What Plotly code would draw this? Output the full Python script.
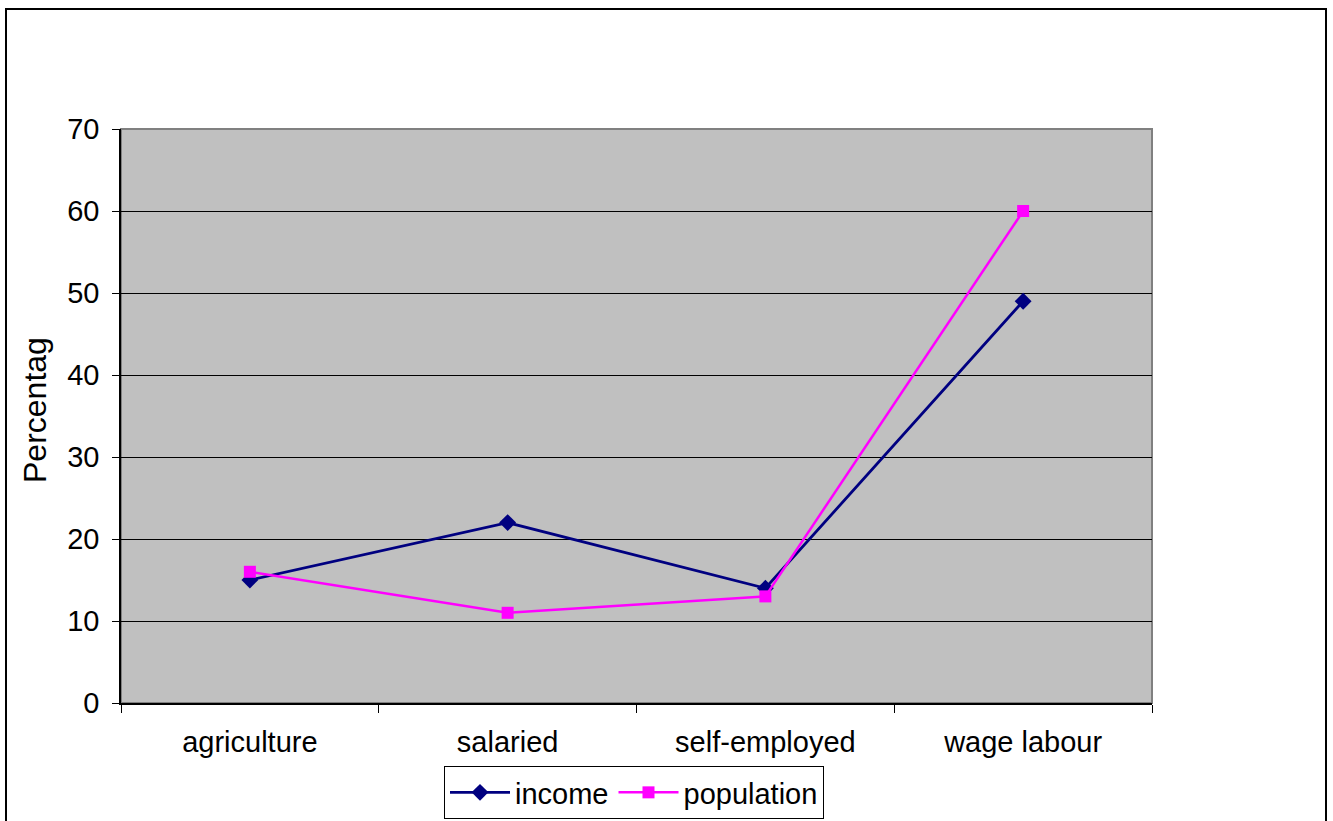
import plotly.graph_objects as go

# Share of income and population by livelihood category (%)
categories = ["agriculture", "salaried", "self-employed", "wage labour"]
income = [15, 22, 14, 49]
population = [16, 11, 13, 60]
y_ticks = [0, 10, 20, 30, 40, 50, 60, 70]

W, H = 1333, 821
L, R, T, B = 121, 1152, 129, 703  # plot area in pixels
pw, ph = R - L, B - T


def px_x(x):
    return (x - L) / pw


def px_y(y):
    return (B - y) / ph


FONT = "Liberation Sans, Arial, sans-serif"

fig = go.Figure()
fig.add_trace(go.Scatter(
    x=categories, y=income, name="income", mode="lines+markers",
    line=dict(color="#000080", width=2.8),
    marker=dict(symbol="diamond", size=13, color="#000080"),
))
fig.add_trace(go.Scatter(
    x=categories, y=population, name="population", mode="lines+markers",
    line=dict(color="#FF00FF", width=2.5),
    marker=dict(symbol="square", size=12, color="#FF00FF"),
))

fig.update_layout(
    width=W, height=H,
    margin=dict(l=L, r=W - R, t=T, b=H - B, pad=0, autoexpand=False),
    paper_bgcolor="white",
    plot_bgcolor="#C0C0C0",
    font=dict(family=FONT, size=29, color="black"),
    showlegend=True,
    legend=dict(
        orientation="h", x=px_x(634), y=px_y(766), xanchor="center", yanchor="top",
        bgcolor="white", bordercolor="black", borderwidth=1,
        font=dict(family=FONT, size=29, color="black"),
        itemwidth=60, tracegroupgap=0,
    ),
    xaxis=dict(
        type="category", range=[-0.5, 3.5], tickson="boundaries",
        showgrid=False, showline=True, linecolor="black", linewidth=1.5,
        ticks="outside", ticklen=8, tickcolor="black", tickwidth=1,
        ticklabelstandoff=12,
        tickfont=dict(family=FONT, size=29, color="black"),
    ),
    yaxis=dict(
        range=[0, 70], tickvals=y_ticks, ticktext=[str(v) for v in y_ticks],
        showgrid=True, gridcolor="black", gridwidth=1, zeroline=False,
        showline=True, linecolor="black", linewidth=1.5,
        ticks="outside", ticklen=7, tickcolor="black", tickwidth=1,
        ticklabelstandoff=7,
        tickfont=dict(family=FONT, size=29, color="black"),
    ),
    shapes=[
        # plot area frame (grey top/right edge)
        dict(type="rect", xref="paper", yref="paper", x0=0, x1=1, y0=0, y1=1,
             line=dict(color="#808080", width=2), layer="below"),
        # outer chart border, running off the bottom of the page
        dict(type="rect", xref="paper", yref="paper",
             x0=px_x(6), x1=px_x(1326), y0=px_y(850), y1=px_y(9),
             line=dict(color="black", width=2), layer="above"),
    ],
    annotations=[
        dict(text="Percentag", xref="paper", yref="paper",
             x=px_x(35), y=px_y(410), xanchor="center", yanchor="middle",
             textangle=-90, showarrow=False,
             font=dict(family=FONT, size=32, color="black")),
    ],
)

fig.write_html("out.html")
